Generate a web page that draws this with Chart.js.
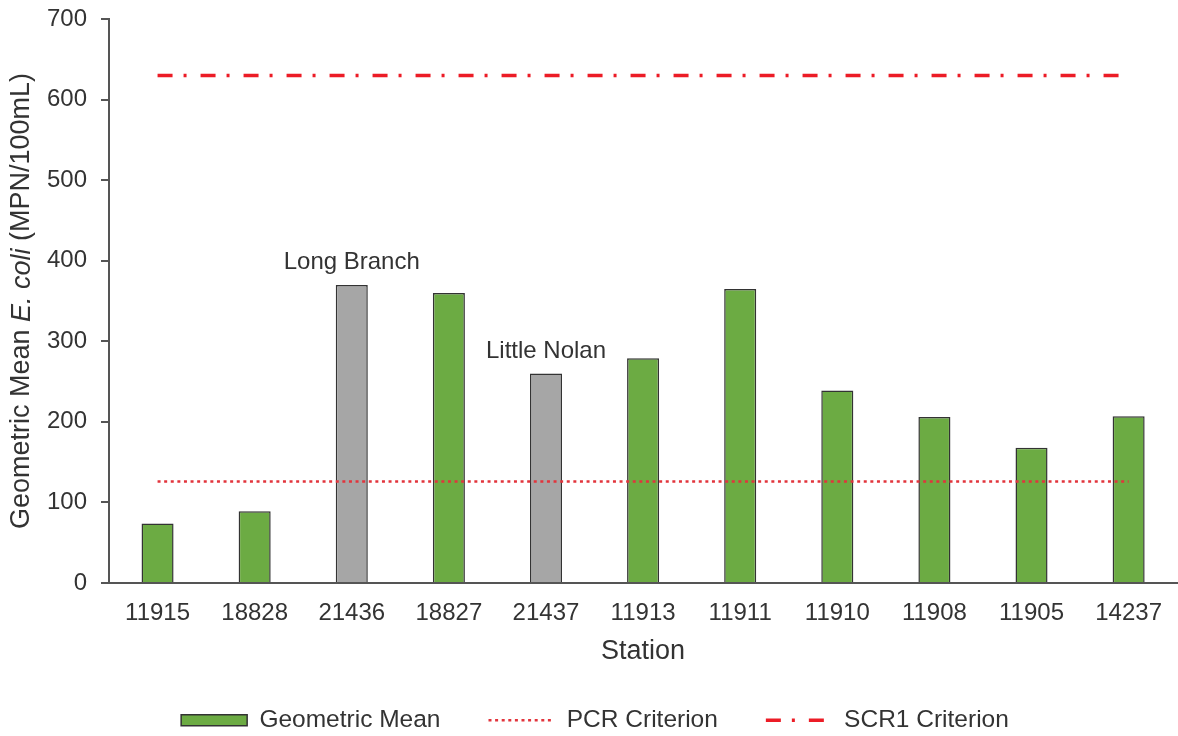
<!DOCTYPE html>
<html>
<head>
<meta charset="utf-8">
<script src="https://cdn.jsdelivr.net/npm/chart.js@4/dist/chart.umd.min.js"></script>
<style>
  html, body { margin: 0; padding: 0; background: #ffffff; }
  #wrap { width: 1178px; height: 736px; position: relative; }
</style>
</head>
<body>
<div id="wrap"><canvas id="c" width="1178" height="736"></canvas></div>
<script>
// ---- Data ----
const stations = ['11915', '18828', '21436', '18827', '21437', '11913', '11911', '11910', '11908', '11905', '14237'];
const geometricMean = [74, 89, 370, 360, 260, 279, 365, 239, 206, 168, 207];
const pcrCriterion = [126, 126, 126, 126, 126, 126, 126, 126, 126, 126, 126];
const scr1Criterion = [630, 630, 630, 630, 630, 630, 630, 630, 630, 630, 630];
const tributaryStations = ['21436', '21437'];
const stationNotes = ['', '', 'Long Branch', '', 'Little Nolan', '', '', '', '', '', ''];
const yTicks = [0, 100, 200, 300, 400, 500, 600, 700];

const FONT = "'Liberation Sans', Arial, Helvetica, sans-serif";
const TEXT = '#333333';
const AXIS = '#555555';
const GREEN = '#6cab43';
const GRAY = '#a6a6a6';
const PCR_RED = '#e2343c';
const SCR_RED = '#ec1c26';

const yTitlePlugin = {
  id: 'yTitle',
  afterDraw(chart) {
    const ctx = chart.ctx;
    const area = chart.chartArea;
    const parts = [
      { t: 'Geometric Mean ', f: "27px " + FONT },
      { t: 'E. coli', f: "italic 27px " + FONT },
      { t: ' (MPN/100mL)', f: "27px " + FONT }
    ];
    ctx.save();
    let total = 0;
    parts.forEach(p => { ctx.font = p.f; p.w = ctx.measureText(p.t).width; total += p.w; });
    ctx.translate(22, (area.top + area.bottom) / 2);
    ctx.rotate(-Math.PI / 2);
    ctx.fillStyle = TEXT;
    ctx.textBaseline = 'middle';
    ctx.textAlign = 'left';
    let x = -total / 2;
    parts.forEach(p => { ctx.font = p.f; ctx.fillText(p.t, x, 0); x += p.w; });
    ctx.restore();
  }
};

const notesPlugin = {
  id: 'stationNotes',
  afterDatasetsDraw(chart) {
    const ctx = chart.ctx;
    const xs = chart.scales.x, ys = chart.scales.y;
    ctx.save();
    ctx.font = "24px " + FONT;
    ctx.fillStyle = TEXT;
    ctx.textAlign = 'center';
    ctx.textBaseline = 'alphabetic';
    stationNotes.forEach((note, i) => {
      if (!note) return;
      const x = xs.getPixelForValue(i);
      const y = ys.getPixelForValue(geometricMean[i]) - 16;
      ctx.fillText(note, x, y);
    });
    ctx.restore();
  }
};

new Chart(document.getElementById('c'), {
  data: {
    labels: stations,
    datasets: [
      {
        type: 'bar',
        label: 'Geometric Mean',
        data: geometricMean,
        backgroundColor: (c) => tributaryStations.includes(stations[c.dataIndex]) ? GRAY : GREEN,
        borderColor: '#333333',
        borderWidth: 1.5,
        barPercentage: 0.33,
        categoryPercentage: 1.0,
        order: 3
      },
      {
        type: 'line',
        label: 'PCR Criterion',
        data: pcrCriterion,
        borderColor: PCR_RED,
        borderWidth: 2.5,
        borderDash: [3, 3.6],
        pointRadius: 0,
        fill: false,
        order: 1
      },
      {
        type: 'line',
        label: 'SCR1 Criterion',
        data: scr1Criterion,
        borderColor: SCR_RED,
        borderWidth: 3.5,
        borderDash: [15, 11, 3, 14],
        pointRadius: 0,
        fill: false,
        order: 2
      }
    ]
  },
  options: {
    responsive: false,
    animation: false,
    devicePixelRatio: 1,
    layout: { padding: { top: 19, left: 12, right: 0, bottom: 0 } },
    scales: {
      x: {
        type: 'category',
        offset: true,
        grid: { display: false, drawTicks: false },
        border: { display: true, color: AXIS, width: 2 },
        ticks: { color: TEXT, font: { family: FONT, size: 24 }, padding: 16, maxRotation: 0, autoSkip: false },
        title: { display: true, text: 'Station', color: TEXT, font: { family: FONT, size: 27, lineHeight: 0.6 }, padding: 0 },
        afterFit: (s) => { s.height = 77; }
      },
      y: {
        min: 0,
        max: 700,
        afterBuildTicks: (s) => { s.ticks = yTicks.map(v => ({ value: v })); },
        grid: { display: true, drawOnChartArea: false, drawTicks: true, tickLength: 8, color: AXIS, lineWidth: 2 },
        border: { display: true, color: AXIS, width: 2 },
        ticks: { color: TEXT, font: { family: FONT, size: 24 }, padding: 14 },
        afterFit: (s) => { s.width = 97; s.paddingTop = 0; s.paddingBottom = 0; }
      }
    },
    plugins: {
      tooltip: { enabled: false },
      legend: {
        position: 'bottom',
        maxHeight: 76,
        labels: {
          color: TEXT,
          font: { family: FONT, size: 24.5 },
          usePointStyle: true,
          pointStyleWidth: 66,
          boxHeight: 11,
          padding: 48,
          generateLabels: () => [
            { text: 'Geometric Mean', fillStyle: GREEN, strokeStyle: '#333333', lineWidth: 1.5, pointStyle: 'rect', datasetIndex: 0, fontColor: TEXT },
            { text: 'PCR Criterion', fillStyle: PCR_RED, strokeStyle: PCR_RED, lineWidth: 2.5, lineDash: [3, 3.6], pointStyle: 'line', datasetIndex: 1, fontColor: TEXT },
            { text: 'SCR1 Criterion', fillStyle: SCR_RED, strokeStyle: SCR_RED, lineWidth: 3.5, lineDash: [15, 11, 3, 14], pointStyle: 'line', datasetIndex: 2, fontColor: TEXT }
          ]
        }
      }
    }
  },
  plugins: [yTitlePlugin, notesPlugin]
});
</script>
</body>
</html>
